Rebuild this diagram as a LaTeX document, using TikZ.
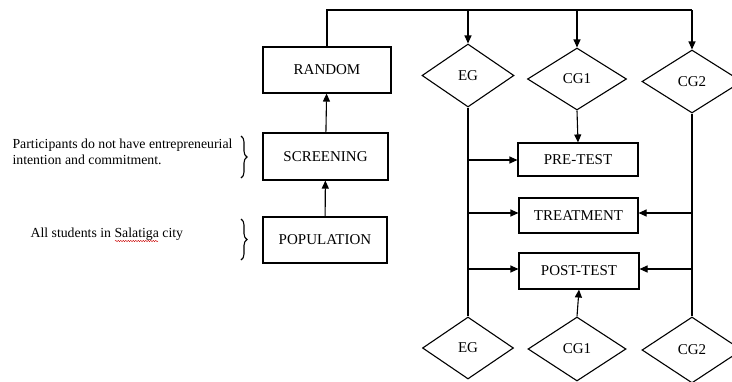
\documentclass[tikz,border=0pt]{standalone}
\usepackage{fontspec}
\setmainfont{Liberation Serif}
\usetikzlibrary{shapes.geometric,arrows.meta,decorations.pathreplacing,decorations.pathmorphing}
\begin{document}
\begin{tikzpicture}[x=1pt,y=-1pt,
  line width=1.1pt,
  box/.style={draw,rectangle,inner sep=0pt,font=\fontsize{15}{17}\selectfont},
  dia/.style={draw,diamond,inner sep=0pt,font=\fontsize{15}{17}\selectfont},
  arr/.style={-{Triangle[length=8pt,width=7pt]}},
  note/.style={font=\fontsize{13.8}{16.5}\selectfont,align=left,anchor=west,inner sep=0pt},
  brc/.style={decorate,decoration={brace,amplitude=6pt},line width=1.1pt}]
\useasboundingbox (0,0) rectangle (732,381);
\clip (0,0) rectangle (732,381);
% boxes
\node[box,minimum width=128,minimum height=46] (random) at (327,70) {RANDOM};
\node[box,minimum width=125,minimum height=47] (screening) at (325.5,156.5) {SCREENING};
\node[box,minimum width=124,minimum height=46] (population) at (325,240) {POPULATION};
\node[box,minimum width=120,minimum height=33] (pretest) at (578,159.5) {PRE-TEST};
\node[box,minimum width=119,minimum height=35] (treatment) at (578.5,215.5) {TREATMENT};
\node[box,minimum width=120,minimum height=36] (posttest) at (579,271) {POST-TEST};
% diamonds
\node[dia,minimum width=92,minimum height=63] (eg1) at (468,75.5) {EG};
\node[dia,minimum width=99,minimum height=62] (cg1t) at (577,79) {CG1};
\node[dia,minimum width=100,minimum height=63] (cg2t) at (692,81.5) {CG2};
\node[dia,minimum width=91,minimum height=62] (eg2) at (468,348) {EG};
\node[dia,minimum width=98,minimum height=64] (cg1b) at (577,349) {CG1};
\node[dia,minimum width=100,minimum height=66] (cg2b) at (692,350) {CG2};
% coordinates
\coordinate (t0) at (327,10);
\coordinate (t1) at (468,10);
\coordinate (t2) at (577,10);
\coordinate (t3) at (692,10);
\coordinate (e1) at (468,160);
\coordinate (e2) at (468,213);
\coordinate (e3) at (468,269);
\coordinate (c2) at (692,213);
\coordinate (c3) at (692,269);
% connectors
\draw[arr] (population) -- (screening);
\draw[arr] (screening) -- (random);
\draw (random.north) -- (t0) -- (t3);
\draw[arr] (t1) -- (eg1.north);
\draw[arr] (t2) -- (cg1t.north);
\draw[arr] (t3) -- (cg2t.north);
\draw (eg1.south) -- (eg2.north);
\draw (cg2t.south) -- (cg2b.north);
\draw[arr] (cg1t.south) -- (pretest.north);
\draw[arr] (e1) -- (e1 -| pretest.west);
\draw[arr] (e2) -- (e2 -| treatment.west);
\draw[arr] (e3) -- (e3 -| posttest.west);
\draw[arr] (c2) -- (c2 -| treatment.east);
\draw[arr] (c3) -- (c3 -| posttest.east);
\draw[arr] (cg1b.north) -- (posttest.south);
% notes
\node[note] (n1) at (12,152) {Participants do not have entrepreneurial\\intention and commitment.};
\node[note] (n2) at (30,234) {All students in Salatiga city};
\draw[red!80!black,line width=0.4pt,decorate,decoration={snake,amplitude=0.7pt,segment length=2.5pt}] (115,241) -- (158,241);
\draw[brc] (241,136) -- (241,178);
\draw[brc] (241,219) -- (241,260);
\end{tikzpicture}
\end{document}
